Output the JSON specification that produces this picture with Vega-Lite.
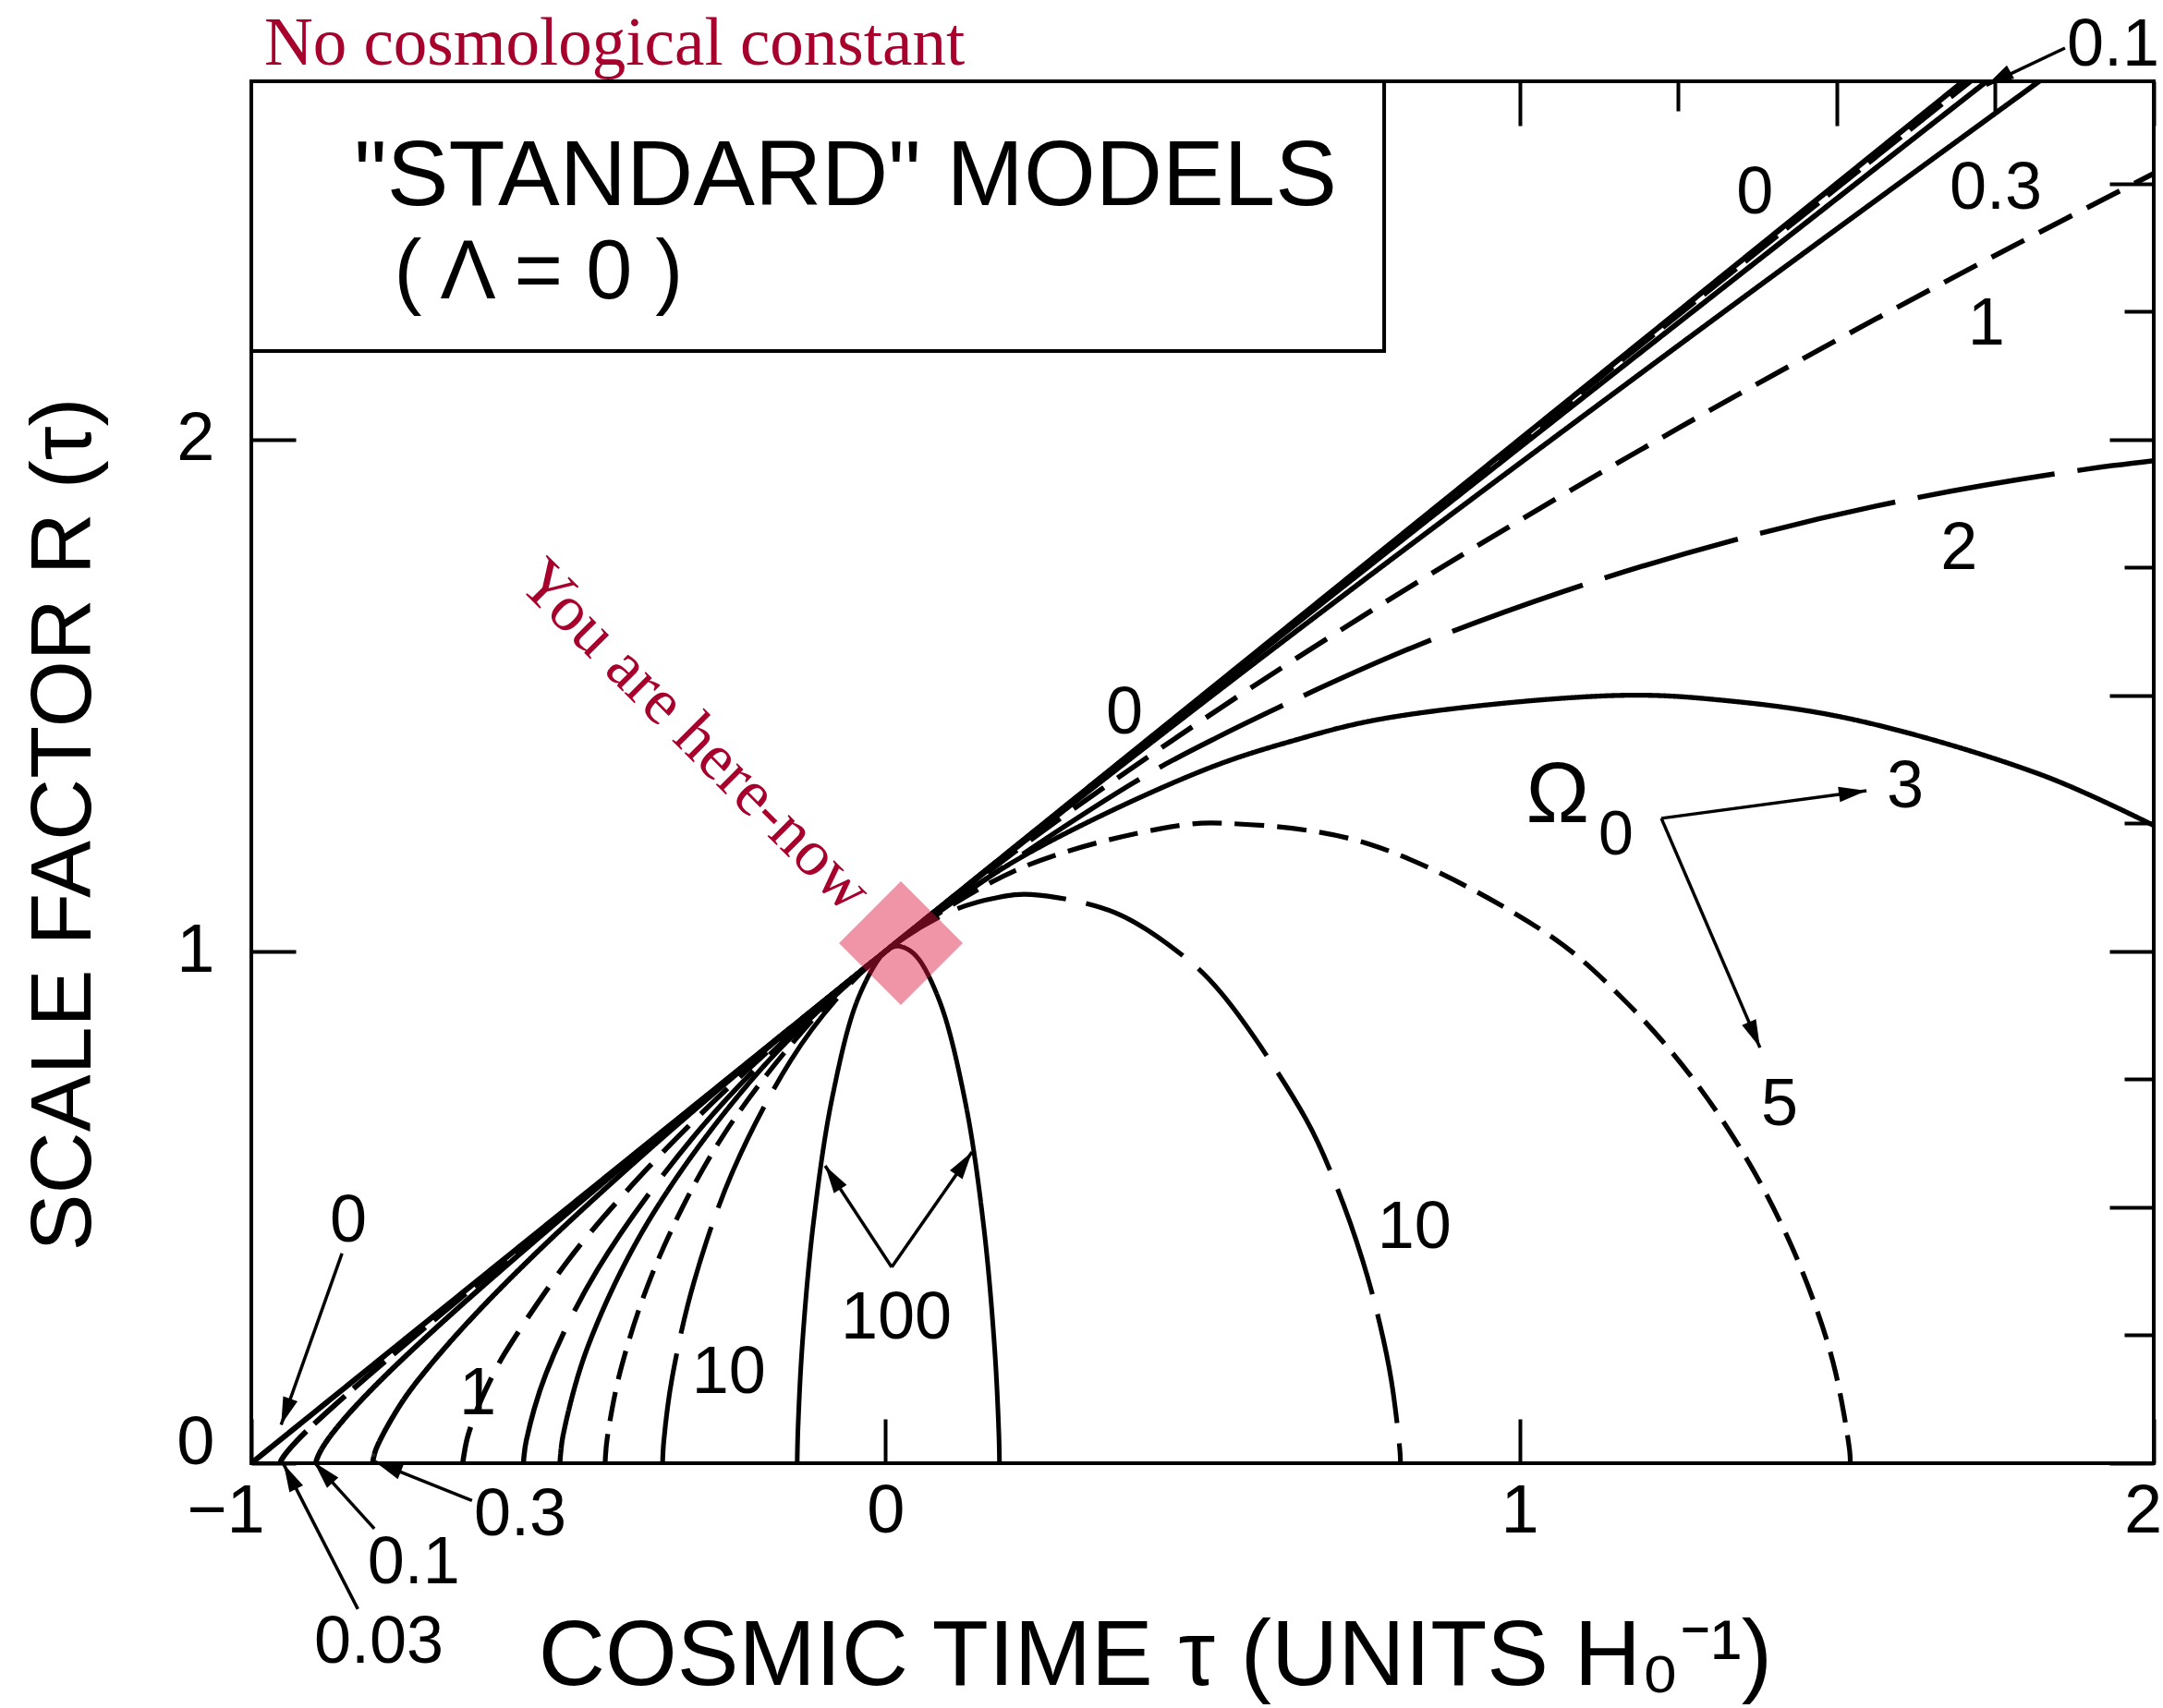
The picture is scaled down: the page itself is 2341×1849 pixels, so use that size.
{
  "$schema": "https://vega.github.io/schema/vega-lite/v6.json",
  "width": 2059,
  "height": 1496,
  "autosize": {"type": "none"},
  "padding": {"left": 272, "top": 88, "right": 10, "bottom": 265},
  "background": "white",
  "config": {
    "view": {"stroke": "black", "strokeWidth": 4},
    "axis": {
      "domain": false, "grid": false, "tickColor": "black", "tickWidth": 4,
      "labelFont": "Liberation Sans", "labelFontSize": 74, "labelColor": "black",
      "titleFont": "Liberation Sans", "titleFontSize": 93, "titleFontWeight": "normal", "titleColor": "black",
      "labelOverlap": false, "labelFlush": false, "labelBound": false
    }
  },
  "datasets": {
    "curves": [
      {"model": "0", "tau": -1, "R": 0}, {"model": "0", "tau": 2, "R": 3},
      {"model": "0.03", "tau": -0.9543, "R": 0}, {"model": "0.03", "tau": -0.954, "R": 0.002}, {"model": "0.03", "tau": -0.9516, "R": 0.0084}, {"model": "0.03", "tau": -0.9288, "R": 0.0427}, {"model": "0.03", "tau": -0.8441, "R": 0.1402}, {"model": "0.03", "tau": -0.5887, "R": 0.4068}, {"model": "0.03", "tau": -0.3184, "R": 0.6806}, {"model": "0.03", "tau": 0, "R": 1}, {"model": "0.03", "tau": 0.8802, "R": 1.8766}, {"model": "0.03", "tau": 2.1186, "R": 3.1039},
      {"model": "0.1", "tau": -0.8981, "R": 0}, {"model": "0.1", "tau": -0.8969, "R": 0.0071}, {"model": "0.1", "tau": -0.8879, "R": 0.0302}, {"model": "0.1", "tau": -0.8613, "R": 0.0751}, {"model": "0.1", "tau": -0.8029, "R": 0.1535}, {"model": "0.1", "tau": -0.6902, "R": 0.2851}, {"model": "0.1", "tau": -0.4872, "R": 0.5038}, {"model": "0.1", "tau": -0.2986, "R": 0.6986}, {"model": "0.1", "tau": 0, "R": 1}, {"model": "0.1", "tau": 0.4658, "R": 1.4616}, {"model": "0.1", "tau": 1.0077, "R": 1.9921}, {"model": "0.1", "tau": 1.7451, "R": 2.7082}, {"model": "0.1", "tau": 2.0457, "R": 2.9988},
      {"model": "0.3", "tau": -0.8088, "R": 0}, {"model": "0.3", "tau": -0.8034, "R": 0.0273}, {"model": "0.3", "tau": -0.7639, "R": 0.1164}, {"model": "0.3", "tau": -0.7187, "R": 0.1904}, {"model": "0.3", "tau": -0.6476, "R": 0.2898}, {"model": "0.3", "tau": -0.5423, "R": 0.4209}, {"model": "0.3", "tau": -0.3921, "R": 0.5919}, {"model": "0.3", "tau": -0.2307, "R": 0.7646}, {"model": "0.3", "tau": 0, "R": 1}, {"model": "0.3", "tau": 0.5722, "R": 1.5542}, {"model": "0.3", "tau": 1.234, "R": 2.1688}, {"model": "0.3", "tau": 1.8134, "R": 2.6946}, {"model": "0.3", "tau": 2.1533, "R": 2.9998},
      {"model": "1", "tau": -0.6667, "R": 0}, {"model": "1", "tau": -0.66, "R": 0.0464}, {"model": "1", "tau": -0.65, "R": 0.0855}, {"model": "1", "tau": -0.64, "R": 0.117}, {"model": "1", "tau": -0.62, "R": 0.1699}, {"model": "1", "tau": -0.6, "R": 0.2154}, {"model": "1", "tau": -0.5, "R": 0.3969}, {"model": "1", "tau": -0.4, "R": 0.5429}, {"model": "1", "tau": -0.3, "R": 0.6715}, {"model": "1", "tau": -0.2, "R": 0.7884}, {"model": "1", "tau": -0.1, "R": 0.8973}, {"model": "1", "tau": 0, "R": 1}, {"model": "1", "tau": 0.25, "R": 1.2367}, {"model": "1", "tau": 0.5, "R": 1.4522}, {"model": "1", "tau": 0.75, "R": 1.6529}, {"model": "1", "tau": 1, "R": 1.842}, {"model": "1", "tau": 1.25, "R": 2.022}, {"model": "1", "tau": 1.5, "R": 2.1942}, {"model": "1", "tau": 1.75, "R": 2.3599}, {"model": "1", "tau": 2, "R": 2.5198},
      {"model": "2", "tau": -0.5708, "R": 0}, {"model": "2", "tau": -0.5702, "R": 0.0112}, {"model": "2", "tau": -0.5663, "R": 0.0447}, {"model": "2", "tau": -0.5354, "R": 0.1747}, {"model": "2", "tau": -0.4541, "R": 0.3784}, {"model": "2", "tau": -0.3028, "R": 0.6376}, {"model": "2", "tau": -0.1563, "R": 0.83}, {"model": "2", "tau": 0, "R": 1}, {"model": "2", "tau": 0.3829, "R": 1.3233}, {"model": "2", "tau": 0.5199, "R": 1.4162}, {"model": "2", "tau": 0.8207, "R": 1.5885}, {"model": "2", "tau": 1.0678, "R": 1.7027}, {"model": "2", "tau": 1.3307, "R": 1.8011}, {"model": "2", "tau": 1.6068, "R": 1.8816}, {"model": "2", "tau": 1.8942, "R": 1.9422}, {"model": "2", "tau": 2.0899, "R": 1.971},
      {"model": "3", "tau": -0.5133, "R": 0}, {"model": "3", "tau": -0.5125, "R": 0.015}, {"model": "3", "tau": -0.5076, "R": 0.0592}, {"model": "3", "tau": -0.4694, "R": 0.2275}, {"model": "3", "tau": -0.3711, "R": 0.4782}, {"model": "3", "tau": -0.1948, "R": 0.7719}, {"model": "3", "tau": 0, "R": 1}, {"model": "3", "tau": 0.0652, "R": 1.0621}, {"model": "3", "tau": 0.2247, "R": 1.1914}, {"model": "3", "tau": 0.4952, "R": 1.3509}, {"model": "3", "tau": 0.6416, "R": 1.4112}, {"model": "3", "tau": 0.794, "R": 1.4567}, {"model": "3", "tau": 1.1528, "R": 1.5}, {"model": "3", "tau": 1.3205, "R": 1.4906}, {"model": "3", "tau": 1.529, "R": 1.4523}, {"model": "3", "tau": 1.8265, "R": 1.3432}, {"model": "3", "tau": 2.0094, "R": 1.2402},
      {"model": "5", "tau": -0.442, "R": 0}, {"model": "5", "tau": -0.4416, "R": 0.0125}, {"model": "5", "tau": -0.4387, "R": 0.0493}, {"model": "5", "tau": -0.4161, "R": 0.1896}, {"model": "5", "tau": -0.3582, "R": 0.3985}, {"model": "5", "tau": -0.2543, "R": 0.6433}, {"model": "5", "tau": -0.1011, "R": 0.8851}, {"model": "5", "tau": 0, "R": 1}, {"model": "5", "tau": 0.2094, "R": 1.1606}, {"model": "5", "tau": 0.4514, "R": 1.2437}, {"model": "5", "tau": 0.5398, "R": 1.25}, {"model": "5", "tau": 0.7614, "R": 1.2103}, {"model": "5", "tau": 1.0445, "R": 1.0335}, {"model": "5", "tau": 1.1658, "R": 0.9038}, {"model": "5", "tau": 1.2698, "R": 0.7568}, {"model": "5", "tau": 1.3547, "R": 0.6015}, {"model": "5", "tau": 1.4202, "R": 0.4477}, {"model": "5", "tau": 1.4671, "R": 0.305}, {"model": "5", "tau": 1.4973, "R": 0.1821}, {"model": "5", "tau": 1.5204, "R": 0.0249}, {"model": "5", "tau": 1.5215, "R": 0},
      {"model": "10", "tau": -0.3515, "R": 0}, {"model": "10", "tau": -0.3495, "R": 0.0439}, {"model": "10", "tau": -0.3362, "R": 0.1685}, {"model": "10", "tau": -0.3019, "R": 0.3542}, {"model": "10", "tau": -0.2403, "R": 0.5718}, {"model": "10", "tau": -0.1495, "R": 0.7868}, {"model": "10", "tau": -0.0789, "R": 0.9045}, {"model": "10", "tau": 0, "R": 1}, {"model": "10", "tau": 0.105, "R": 1.079}, {"model": "10", "tau": 0.1779, "R": 1.1056}, {"model": "10", "tau": 0.2303, "R": 1.1111}, {"model": "10", "tau": 0.3616, "R": 1.0758}, {"model": "10", "tau": 0.4655, "R": 0.995}, {"model": "10", "tau": 0.5294, "R": 0.9187}, {"model": "10", "tau": 0.6629, "R": 0.6727}, {"model": "10", "tau": 0.7132, "R": 0.5347}, {"model": "10", "tau": 0.752, "R": 0.398}, {"model": "10", "tau": 0.7798, "R": 0.2711}, {"model": "10", "tau": 0.7977, "R": 0.1619}, {"model": "10", "tau": 0.8114, "R": 0.0221}, {"model": "10", "tau": 0.8121, "R": 0},
      {"model": "100", "tau": -0.1392, "R": 0}, {"model": "100", "tau": -0.1381, "R": 0.0618}, {"model": "100", "tau": -0.1311, "R": 0.2322}, {"model": "100", "tau": -0.1136, "R": 0.4693}, {"model": "100", "tau": -0.0838, "R": 0.7152}, {"model": "100", "tau": -0.0426, "R": 0.9097}, {"model": "100", "tau": 0, "R": 1}, {"model": "100", "tau": 0.0203, "R": 1.0101}, {"model": "100", "tau": 0.0464, "R": 0.9933}, {"model": "100", "tau": 0.0848, "R": 0.9045}, {"model": "100", "tau": 0.1256, "R": 0.7075}, {"model": "100", "tau": 0.1551, "R": 0.4609}, {"model": "100", "tau": 0.1721, "R": 0.2251}, {"model": "100", "tau": 0.1788, "R": 0.0578}, {"model": "100", "tau": 0.1798, "R": 0}
    ],
    "numlabels": [
      {"tau": 1.371, "R": 2.482, "text": "0"}, {"tau": 1.751, "R": 2.49, "text": "0.3"}, {"tau": 1.736, "R": 2.226, "text": "1"}, {"tau": 1.693, "R": 1.787, "text": "2"},
      {"tau": 0.377, "R": 1.466, "text": "0"}, {"tau": 1.608, "R": 1.321, "text": "3"}, {"tau": 1.41, "R": 0.7, "text": "5"}, {"tau": 0.834, "R": 0.461, "text": "10"},
      {"tau": 0.017, "R": 0.283, "text": "100"}, {"tau": -0.247, "R": 0.176, "text": "10"}, {"tau": -0.643, "R": 0.135, "text": "1"}, {"tau": -0.847, "R": 0.472, "text": "0"},
      {"tau": 1.936, "R": 2.77, "text": "0.1"}, {"tau": -0.576, "R": -0.101, "text": "0.3"}, {"tau": -0.744, "R": -0.195, "text": "0.1"}, {"tau": -0.799, "R": -0.35, "text": "0.03"}
    ],
    "arrows": [
      {"tau": -0.857, "R": 0.41, "tau2": -0.953, "R2": 0.075, "angle": -160.5},
      {"tau": -0.652, "R": -0.073, "tau2": -0.805, "R2": 0.003, "angle": -68.1},
      {"tau": -0.806, "R": -0.128, "tau2": -0.901, "R2": 0.002, "angle": -42.2},
      {"tau": -0.832, "R": -0.285, "tau2": -0.949, "R2": -0.002, "angle": -27.1},
      {"tau": 1.86, "R": 2.765, "tau2": 1.736, "R2": 2.692, "angle": -119.1},
      {"tau": 0.0098, "R": 0.383, "tau2": -0.0951, "R2": 0.581, "angle": -33.2},
      {"tau": 0.0098, "R": 0.383, "tau2": 0.1365, "R2": 0.608, "angle": 34.9},
      {"tau": 1.2235, "R": 1.26, "tau2": 1.547, "R2": 1.314, "angle": 82.3},
      {"tau": 1.2235, "R": 1.26, "tau2": 1.379, "R2": 0.812, "angle": 156.7}
    ]
  },
  "resolve": {"axis": {"x": "independent", "y": "independent"}},
  "layer": [
    {
      "data": {"name": "curves"},
      "mark": {"type": "line", "clip": true, "color": "black", "strokeCap": "butt", "interpolate": "catmull-rom"},
      "encoding": {
        "x": {
          "field": "tau", "type": "quantitative",
          "scale": {"domain": [-1, 2], "nice": false, "zero": false},
          "axis": {
            "orient": "bottom",
            "values": [-1, -0.75, -0.5, -0.25, 0, 0.25, 0.5, 0.75, 1, 1.25, 1.5, 1.75, 2],
            "format": "d",
            "tickSize": {"condition": {"test": "datum.value * 2 % 1 === 0", "value": -48}, "value": -32},
            "labelExpr": "datum.value % 1 === 0 ? datum.label : ''",
            "labelPadding": 64,
            "labelOffset": {"condition": [{"test": "datum.value === -1", "value": -28}, {"test": "datum.value === 2", "value": -12}], "value": 0},
            "title": "COSMIC TIME τ (UNITS H₀⁻¹)",
            "titleFontSize": 100,
            "titleX": 978, "titleY": 239, "titleAlign": "center", "titleBaseline": "alphabetic"
          }
        },
        "y": {
          "field": "R", "type": "quantitative",
          "scale": {"domain": [0, 2.7], "nice": false, "zero": false},
          "axis": {
            "orient": "left",
            "values": [0, 0.25, 0.5, 0.75, 1, 1.25, 1.5, 1.75, 2, 2.25, 2.5],
            "format": "d",
            "tickSize": {"condition": {"test": "datum.value * 2 % 1 === 0", "value": -48}, "value": -32},
            "labelExpr": "datum.value % 1 === 0 ? datum.label : ''",
            "labelPadding": 88,
            "labelOffset": {"condition": {"test": "datum.value === 0", "value": -22}, "value": 0},
            "title": "SCALE FACTOR R (τ)",
            "titleAngle": 270,
            "titleX": -175, "titleY": 804, "titleAlign": "center", "titleBaseline": "alphabetic"
          }
        },
        "strokeDash": {
          "field": "model", "type": "nominal", "legend": null,
          "scale": {
            "domain": ["0", "0.03", "0.1", "0.3", "1", "2", "3", "5", "10", "100"],
            "range": [[1, 0], [45, 12], [1, 0], [1, 0], [40, 18], [150, 25], [1, 0], [32, 14], [120, 22], [1, 0]]
          }
        },
        "strokeWidth": {
          "field": "model", "type": "nominal", "legend": null,
          "scale": {
            "domain": ["0", "0.03", "0.1", "0.3", "1", "2", "3", "5", "10", "100"],
            "range": [6, 5, 4.5, 5, 5, 5, 5, 5, 5, 5]
          }
        }
      }
    },
    {
      "data": {"values": [{"tau": -1, "tau2": 0.7864, "R": 2.173, "R2": 2.7}]},
      "mark": {"type": "rect", "fill": "white", "stroke": "black", "strokeWidth": 4},
      "encoding": {
        "x": {"field": "tau", "type": "quantitative", "scale": {"domain": [-1, 2], "nice": false, "zero": false}, "axis": null},
        "x2": {"field": "tau2"},
        "y": {"field": "R", "type": "quantitative", "scale": {"domain": [0, 2.7], "nice": false, "zero": false}, "axis": null},
        "y2": {"field": "R2"}
      }
    },
    {
      "data": {"values": [{"tau": -0.838, "R": 2.458, "text": "\"STANDARD\" MODELS"}]},
      "mark": {"type": "text", "font": "Liberation Sans", "fontSize": 100, "align": "left", "baseline": "alphabetic", "color": "black"},
      "encoding": {
        "x": {"field": "tau", "type": "quantitative", "scale": {"domain": [-1, 2], "nice": false, "zero": false}, "axis": null},
        "y": {"field": "R", "type": "quantitative", "scale": {"domain": [0, 2.7], "nice": false, "zero": false}, "axis": null},
        "text": {"field": "text"}
      }
    },
    {
      "data": {"values": [{"tau": -0.775, "R": 2.276, "text": "( Λ = 0 )"}]},
      "mark": {"type": "text", "font": "Liberation Sans", "fontSize": 90, "align": "left", "baseline": "alphabetic", "color": "black"},
      "encoding": {
        "x": {"field": "tau", "type": "quantitative", "scale": {"domain": [-1, 2], "nice": false, "zero": false}, "axis": null},
        "y": {"field": "R", "type": "quantitative", "scale": {"domain": [0, 2.7], "nice": false, "zero": false}, "axis": null},
        "text": {"field": "text"}
      }
    },
    {
      "data": {"name": "arrows"},
      "mark": {"type": "rule", "color": "black", "strokeWidth": 3.5},
      "encoding": {
        "x": {"field": "tau", "type": "quantitative", "scale": {"domain": [-1, 2], "nice": false, "zero": false}, "axis": null},
        "y": {"field": "R", "type": "quantitative", "scale": {"domain": [0, 2.7], "nice": false, "zero": false}, "axis": null},
        "x2": {"field": "tau2"},
        "y2": {"field": "R2"}
      }
    },
    {
      "data": {"name": "arrows"},
      "mark": {"type": "point", "shape": "M0,0L0.55,2L-0.55,2Z", "filled": true, "color": "black", "opacity": 1, "size": 900, "strokeWidth": 0},
      "encoding": {
        "x": {"field": "tau2", "type": "quantitative", "scale": {"domain": [-1, 2], "nice": false, "zero": false}, "axis": null},
        "y": {"field": "R2", "type": "quantitative", "scale": {"domain": [0, 2.7], "nice": false, "zero": false}, "axis": null},
        "angle": {"field": "angle", "type": "quantitative", "scale": null}
      }
    },
    {
      "data": {"name": "numlabels"},
      "mark": {"type": "text", "font": "Liberation Sans", "fontSize": 72, "align": "center", "baseline": "middle", "color": "black"},
      "encoding": {
        "x": {
          "field": "tau", "type": "quantitative", "scale": {"domain": [-1, 2], "nice": false, "zero": false},
          "axis": {
            "orient": "top", "labels": false, "title": null,
            "values": [-1, -0.75, -0.5, -0.25, 0, 0.25, 0.5, 0.75, 1, 1.25, 1.5, 1.75, 2],
            "tickSize": {"condition": {"test": "datum.value * 2 % 1 === 0", "value": -48}, "value": -32}
          }
        },
        "y": {
          "field": "R", "type": "quantitative", "scale": {"domain": [0, 2.7], "nice": false, "zero": false},
          "axis": {
            "orient": "right", "labels": false, "title": null,
            "values": [0, 0.25, 0.5, 0.75, 1, 1.25, 1.5, 1.75, 2, 2.25, 2.5],
            "tickSize": {"condition": {"test": "datum.value * 2 % 1 === 0", "value": -48}, "value": -32}
          }
        },
        "text": {"field": "text"}
      }
    },
    {
      "data": {"values": [{"tau": 1.06, "R": 1.303, "text": "Ω"}]},
      "mark": {"type": "text", "font": "Liberation Sans", "fontSize": 92, "align": "center", "baseline": "middle", "color": "black"},
      "encoding": {
        "x": {"field": "tau", "type": "quantitative", "scale": {"domain": [-1, 2], "nice": false, "zero": false}, "axis": null},
        "y": {"field": "R", "type": "quantitative", "scale": {"domain": [0, 2.7], "nice": false, "zero": false}, "axis": null},
        "text": {"field": "text"}
      }
    },
    {
      "data": {"values": [{"tau": 1.152, "R": 1.226, "text": "0"}]},
      "mark": {"type": "text", "font": "Liberation Sans", "fontSize": 68, "align": "center", "baseline": "middle", "color": "black"},
      "encoding": {
        "x": {"field": "tau", "type": "quantitative", "scale": {"domain": [-1, 2], "nice": false, "zero": false}, "axis": null},
        "y": {"field": "R", "type": "quantitative", "scale": {"domain": [0, 2.7], "nice": false, "zero": false}, "axis": null},
        "text": {"field": "text"}
      }
    },
    {
      "data": {"values": [{"tau": -0.9796, "R": 2.733, "text": "No cosmological constant"}]},
      "mark": {"type": "text", "font": "Liberation Serif", "fontSize": 73, "align": "left", "baseline": "alphabetic", "color": "#a7002c"},
      "encoding": {
        "x": {"field": "tau", "type": "quantitative", "scale": {"domain": [-1, 2], "nice": false, "zero": false}, "axis": null},
        "y": {"field": "R", "type": "quantitative", "scale": {"domain": [0, 2.7], "nice": false, "zero": false}, "axis": null},
        "text": {"field": "text"}
      }
    },
    {
      "data": {"values": [{"tau": -0.3006, "R": 1.4206, "text": "You are here-now"}]},
      "mark": {"type": "text", "font": "Liberation Serif", "fontSize": 71, "align": "center", "baseline": "middle", "angle": 45, "color": "#a7002c"},
      "encoding": {
        "x": {"field": "tau", "type": "quantitative", "scale": {"domain": [-1, 2], "nice": false, "zero": false}, "axis": null},
        "y": {"field": "R", "type": "quantitative", "scale": {"domain": [0, 2.7], "nice": false, "zero": false}, "axis": null},
        "text": {"field": "text"}
      }
    },
    {
      "data": {"values": [{"tau": 0.0243, "R": 1.016}]},
      "mark": {"type": "point", "shape": "diamond", "filled": true, "size": 17956, "color": "#dc143c", "opacity": 0.45, "strokeWidth": 0},
      "encoding": {
        "x": {"field": "tau", "type": "quantitative", "scale": {"domain": [-1, 2], "nice": false, "zero": false}, "axis": null},
        "y": {"field": "R", "type": "quantitative", "scale": {"domain": [0, 2.7], "nice": false, "zero": false}, "axis": null}
      }
    }
  ]
}
